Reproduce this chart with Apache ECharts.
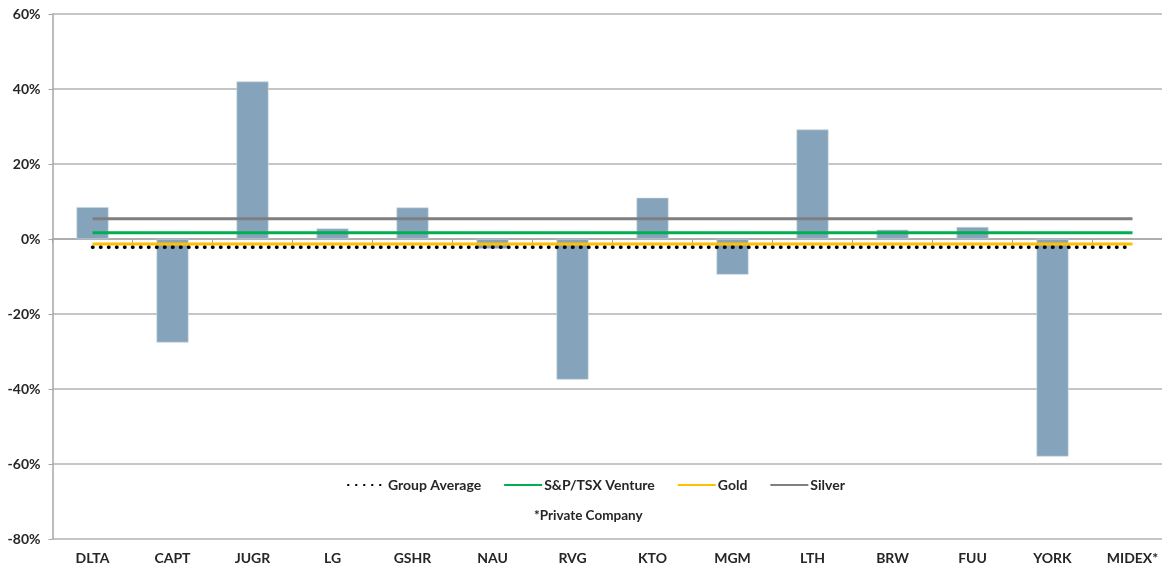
<!DOCTYPE html>
<html>
<head>
<meta charset="utf-8">
<script src="https://cdn.jsdelivr.net/npm/echarts@6/dist/echarts.min.js"></script>
<style>
  html, body { margin: 0; padding: 0; background: #ffffff; }
  #chart { width: 1162px; height: 567px; }
</style>
</head>
<body>
<div id="chart"></div>
<script>
// Company tickers along the x axis
const companies = ['DLTA', 'CAPT', 'JUGR', 'LG', 'GSHR', 'NAU', 'RVG', 'KTO', 'MGM', 'LTH', 'BRW', 'FUU', 'YORK', 'MIDEX*'];

// Percentage change per company (MIDEX is private, no value)
const changes = [8.5, -27.6, 42.0, 2.8, 8.4, -2.6, -37.5, 11.0, -9.5, 29.2, 2.5, 3.2, -58.0, null];

// Benchmark levels (percent)
const groupAverage = -2.2;
const tsxVenture = 1.65;
const gold = -1.3;
const silver = 5.4;

// Y axis range
const yMin = -80, yMax = 60, yStep = 20;

const flat = v => companies.map(() => v);

const FONT = 'Lato, "Open Sans", sans-serif';
const TEXT = '#262626';

const chart = echarts.init(document.getElementById('chart'), null, { renderer: 'canvas' });

chart.setOption({
  animation: false,
  backgroundColor: '#ffffff',
  textStyle: { fontFamily: FONT },
  // plot area runs a little past the right edge of the canvas
  grid: { left: 52.5, width: 1120, top: 14, bottom: 28, containLabel: false, outerBoundsMode: 'none' },
  title: {
    text: '*Private Company',
    left: 529,
    top: 504,
    textStyle: { fontFamily: FONT, fontSize: 13.5, fontWeight: 'bold', color: TEXT }
  },
  legend: {
    left: 342,
    top: 473,
    itemWidth: 38,
    itemHeight: 10,
    itemGap: 22,
    itemStyle: { opacity: 0 },
    textStyle: { fontFamily: FONT, fontSize: 14, fontWeight: 'bold', color: TEXT, padding: [0, 0, 0, -3] },
    data: ['Group Average', 'S&P/TSX Venture', 'Gold', 'Silver']
  },
  xAxis: [
    {
      type: 'category',
      data: companies,
      axisLine: { onZero: true, lineStyle: { color: '#a6a6a6', width: 1.5 } },
      axisTick: { show: true, length: 4, lineStyle: { color: '#a6a6a6' } },
      axisLabel: { show: false },
      splitLine: { show: false }
    },
    {
      type: 'category',
      data: companies,
      position: 'bottom',
      axisLine: { show: false, onZero: false },
      axisTick: { show: false },
      axisLabel: { show: true, margin: 12, fontFamily: FONT, fontSize: 14, fontWeight: 'bold', color: TEXT }
    }
  ],
  yAxis: {
    type: 'value',
    min: yMin,
    max: yMax,
    interval: yStep,
    axisLine: { show: true, lineStyle: { color: '#a6a6a6', width: 1.5 } },
    axisTick: { show: true, length: 4, lineStyle: { color: '#a6a6a6' } },
    axisLabel: {
      margin: 12,
      fontFamily: FONT, fontSize: 14, fontWeight: 'bold', color: TEXT,
      formatter: '{value}%'
    },
    splitLine: { show: true, lineStyle: { color: '#b3b3b3', width: 1.5 } }
  },
  series: [
    {
      name: 'Change',
      type: 'bar',
      xAxisIndex: 0,
      data: changes,
      barWidth: '40%',
      itemStyle: { color: '#86a3bc', borderColor: '#c9d6e1', borderWidth: 0.6 },
      z: 2
    },
    {
      name: 'Silver',
      type: 'line',
      xAxisIndex: 0,
      data: flat(silver),
      symbol: 'none',
      lineStyle: { color: '#7f7f7f', width: 3 },
      itemStyle: { color: '#7f7f7f' },
      z: 3
    },
    {
      name: 'S&P/TSX Venture',
      type: 'line',
      xAxisIndex: 0,
      data: flat(tsxVenture),
      symbol: 'none',
      lineStyle: { color: '#00b050', width: 3 },
      itemStyle: { color: '#00b050' },
      z: 4
    },
    {
      name: 'Gold',
      type: 'line',
      xAxisIndex: 0,
      data: flat(gold),
      symbol: 'none',
      lineStyle: { color: '#ffc000', width: 3 },
      itemStyle: { color: '#ffc000' },
      z: 5
    },
    {
      name: 'Group Average',
      type: 'line',
      xAxisIndex: 0,
      data: flat(groupAverage),
      symbol: 'none',
      lineStyle: { color: '#000000', width: 3.5, type: [0.5, 7.5], cap: 'round' },
      itemStyle: { color: '#000000' },
      z: 6
    }
  ]
});
</script>
</body>
</html>
